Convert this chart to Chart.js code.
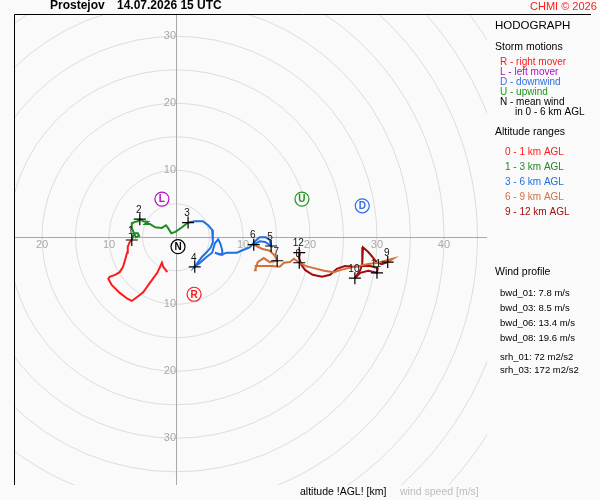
<!DOCTYPE html>
<html>
<head>
<meta charset="utf-8">
<script src="https://cdn.jsdelivr.net/npm/chart.js@4.4.1/dist/chart.umd.min.js"></script>
<style>
  body { margin: 0; background: #fafafa; }
  #wrap { width: 600px; height: 500px; }
</style>
</head>
<body>
<div id="wrap"><canvas id="hodo" width="600" height="500"></canvas></div>
<script>
// hodograph traces, [u, v] in m/s, by altitude layer
const layer0to1 = [[-1.3,-5.2],[-1.9,-4.4],[-2.1,-3.8],[-2.8,-5.3],[-3.9,-6.8],[-4.9,-8.2],[-5.8,-8.9],[-6.6,-9.5],
  [-7.2,-9.2],[-8.4,-8.3],[-9.6,-7.1],[-10.1,-6.2],[-9.9,-5.9],[-9.1,-5.6],[-8.4,-5.2],[-7.9,-4.4],[-7.6,-3.4],
  [-7.3,-2.3],[-7.2,-1.4],[-6.9,-0.7],[-6.6,-0.4]];
const layer1to3 = [[-6.6,-0.4],[-6.4,0.2],[-6.1,0.6],[-5.7,0.6],[-5.5,0.2],[-6.0,0.0],[-6.6,1.4],[-6.6,2.1],[-6.1,2.3],
  [-5.7,2.4],[-5.4,2.7],[-4.9,2.4],[-4.2,2.3],[-4.6,2.0],[-3.9,2.0],[-3.1,1.5],[-2.1,1.4],[-1.5,1.8],[-1.2,1.4],
  [-0.7,0.6],[-0.1,0.8],[0.9,1.5],[1.8,2.2]];
const layer3to6 = [[1.8,2.2],[2.8,2.4],[4.0,2.4],[4.8,1.8],[5.4,1.1],[5.5,0.3],[5.5,-0.7],[5.2,-1.5],[4.6,-2.2],
  [3.9,-2.9],[3.3,-3.7],[2.8,-4.4],[3.6,-3.8],[4.6,-2.9],[5.4,-2.3],[5.8,-0.9],[6.3,-0.3],[6.6,-0.9],[6.9,-1.9],
  [6.9,-2.6],[5.8,-2.3],[6.6,-2.6],[7.6,-2.3],[9.1,-2.3],[10.0,-1.9],[11.0,-1.5],[11.8,-0.6],[12.5,0.0],[13.4,0.0],
  [14.0,-0.4],[14.2,-1.3],[13.3,-0.7],[12.5,-0.6],[11.6,-1.1]];
const layer6to9 = [[11.6,-1.1],[12.8,-1.7],[14.0,-2.0],[14.8,-2.8],[15.1,-3.5],[14.0,-3.7],[13.1,-3.1],[12.2,-3.7],
  [11.8,-4.9],[11.9,-4.3],[13.0,-4.3],[14.3,-4.3],[15.5,-4.4],[16.1,-3.8],[17.0,-3.7],[17.6,-3.2],[18.4,-3.8],
  [19.4,-4.3],[20.6,-4.6],[22.1,-5.0],[23.6,-5.2],[24.5,-4.9],[25.7,-4.6],[27.2,-4.3],[28.7,-4.0],[30.1,-3.8],
  [32.4,-3.2],[31.6,-3.7]];
const layer9to12 = [[31.6,-3.7],[30.7,-4.0],[29.9,-3.7],[29.3,-2.9],[28.7,-2.2],[27.9,-1.5],[27.8,-2.6],[27.8,-4.1],
  [27.5,-4.9],[26.7,-6.1],[27.5,-5.3],[28.7,-5.0],[30.0,-5.3],[30.1,-4.6],[29.0,-4.3],[27.8,-4.3],[26.4,-4.4],
  [25.2,-4.3],[24.0,-4.7],[23.0,-5.6],[21.8,-5.9],[20.4,-5.6],[19.3,-4.9],[18.7,-4.1],[18.4,-3.1],[18.4,-2.3]];

// altitude markers (km)
const kmLabels = ['1','2','3','4','5','6','7','8','9','10','11','12'];
const kmU = [-6.6,-5.4,1.8,2.8,14.2,11.6,15.1,18.4,31.6,26.7,30.0,18.4];
const kmV = [-0.4,2.7,2.2,-4.4,-1.3,-1.1,-3.5,-3.8,-3.7,-6.1,-5.3,-2.3];

// storm motions
const stormLabels = ['R','L','D','U','N'];
const stormU = [2.7,-2.1,27.8,18.8,0.3];
const stormV = [-8.5,5.7,4.7,5.7,-1.4];
const stormColors = ['#ff1a1a','#b010c0','#2f6fe0','#1f961f','#000000'];

// rings and axis ticks
const rings = [5,10,15,20,25,30,35,40,45,50,55,60];
const ticksU = [-20,-10,10,20,30,40];
const ticksV = [30,20,10,-10,-20,-30];

const layerColors = ['#ff1a1a','#1f8a1f','#1f6fe6','#d2703c','#a30c0c'];
const layerNames = ['0 - 1 km AGL','1 - 3 km AGL','3 - 6 km AGL','6 - 9 km AGL','9 - 12 km AGL'];
const windProfile = ['bwd_01: 7.8 m/s','bwd_03: 8.5 m/s','bwd_06: 13.4 m/s','bwd_08: 19.6 m/s'];
const helicity = ['srh_01: 72 m2/s2','srh_03: 172 m2/s2'];

const FONT = '"Liberation Sans", Arial, sans-serif';

function toPoints(arr) {
    return arr.map(p => ({ x: p[0], y: p[1] }));
}

const layers = [layer0to1, layer1to3, layer3to6, layer6to9, layer9to12];
const traceSets = layers.map((l, i) => ({
    data: toPoints(l),
    showLine: true,
    borderColor: layerColors[i],
    borderWidth: 2,
    pointRadius: 0,
    tension: 0,
    order: 3
}));

const hodoPlugin = {
    id: 'hodo',
    beforeDatasetsDraw(chart) {
        const { ctx, chartArea: a, scales: { x, y } } = chart;
        const x0 = x.getPixelForValue(0), y0 = y.getPixelForValue(0);
        ctx.save();
        ctx.beginPath();
        ctx.rect(a.left, a.top, a.right - a.left, a.bottom - a.top);
        ctx.clip();
        ctx.strokeStyle = '#dcdcdc';
        ctx.lineWidth = 1;
        rings.forEach(r => {
            ctx.beginPath();
            ctx.ellipse(x0, y0, x.getPixelForValue(r) - x0, y0 - y.getPixelForValue(r), 0, 0, Math.PI * 2);
            ctx.stroke();
        });
        ctx.strokeStyle = '#a8a8a8';
        ctx.beginPath();
        ctx.moveTo(Math.round(x0) + 0.5, a.top);
        ctx.lineTo(Math.round(x0) + 0.5, a.bottom);
        ctx.moveTo(a.left, Math.round(y0) + 0.5);
        ctx.lineTo(a.right, Math.round(y0) + 0.5);
        ctx.stroke();
        ctx.restore();

        ctx.save();
        ctx.fillStyle = '#a8a8a8';
        ctx.font = '11px ' + FONT;
        ctx.textAlign = 'center';
        ctx.textBaseline = 'middle';
        ticksU.forEach(t => ctx.fillText(String(Math.abs(t)), x.getPixelForValue(t), y0 + 8));
        ctx.textAlign = 'right';
        ticksV.forEach(t => ctx.fillText(String(Math.abs(t)), x0, y.getPixelForValue(t)));
        ctx.restore();

        // frame
        ctx.save();
        ctx.strokeStyle = '#000';
        ctx.lineWidth = 1;
        ctx.beginPath();
        ctx.moveTo(a.left - 0.5, a.bottom);
        ctx.lineTo(a.left - 0.5, a.top - 0.5);
        ctx.lineTo(591, a.top - 0.5);
        ctx.stroke();
        ctx.restore();
    },
    afterDatasetsDraw(chart) {
        const { ctx } = chart;
        ctx.save();
        // altitude labels
        const km = chart.getDatasetMeta(1).data;
        ctx.fillStyle = '#111';
        ctx.font = '10px ' + FONT;
        ctx.textAlign = 'center';
        ctx.textBaseline = 'middle';
        km.forEach((pt, i) => ctx.fillText(kmLabels[i], pt.x - 1, pt.y - 9));

        // storm motion letters
        const st = chart.getDatasetMeta(0).data;
        ctx.font = 'bold 10px ' + FONT;
        st.forEach((pt, i) => {
            ctx.fillStyle = stormColors[i];
            ctx.fillText(stormLabels[i], pt.x, pt.y + 0.5);
        });

        // header
        ctx.textAlign = 'left';
        ctx.fillStyle = '#000';
        ctx.font = 'bold 12px ' + FONT;
        ctx.fillText('Prostejov', 50, 6);
        ctx.fillText('14.07.2026 15 UTC', 117, 6);
        ctx.fillStyle = '#ff1a1a';
        ctx.font = '11px ' + FONT;
        ctx.fillText('CHMI \u00a9 2026', 530, 7);

        // side legend
        ctx.fillStyle = '#000';
        ctx.font = '11.5px ' + FONT;
        ctx.fillText('HODOGRAPH', 495, 26);
        ctx.font = '10.5px ' + FONT;
        ctx.fillText('Storm motions', 495, 47);
        ctx.fillText('Altitude ranges', 495, 132);
        ctx.fillText('Wind profile', 495, 272);

        const stormText = ['R - right mover','L - left mover','D - downwind','U - upwind','N - mean wind'];
        ctx.font = '10px ' + FONT;
        stormText.forEach((t, i) => {
            ctx.fillStyle = stormColors[i];
            ctx.fillText(t, 500, 62 + i * 10);
        });
        ctx.fillStyle = '#000';
        ctx.fillText('in 0 - 6 km AGL', 515, 112);

        layerNames.forEach((t, i) => {
            ctx.fillStyle = layerColors[i];
            ctx.fillText(t, 505, 152 + i * 15);
        });

        ctx.fillStyle = '#000';
        ctx.font = '9.5px ' + FONT;
        windProfile.forEach((t, i) => ctx.fillText(t, 500, 293 + i * 15));
        helicity.forEach((t, i) => ctx.fillText(t, 500, 357 + i * 13));

        // bottom captions
        ctx.font = '10.5px ' + FONT;
        ctx.fillStyle = '#000';
        ctx.fillText('altitude !AGL! [km]', 300, 492);
        ctx.fillStyle = '#bdbdbd';
        ctx.fillText('wind speed [m/s]', 400, 492);
        ctx.restore();
    }
};

new Chart(document.getElementById('hodo'), {
    type: 'scatter',
    data: {
        datasets: [
            {
                data: stormU.map((u, i) => ({ x: u, y: stormV[i] })),
                pointStyle: 'circle',
                pointRadius: 7,
                pointBorderWidth: 1.2,
                pointBorderColor: stormColors,
                pointBackgroundColor: '#fafafa',
                showLine: false,
                order: 0
            },
            {
                data: kmU.map((u, i) => ({ x: u, y: kmV[i] })),
                pointStyle: 'cross',
                pointRadius: 6,
                pointBorderWidth: 1.2,
                pointBorderColor: '#000',
                showLine: false,
                order: 1
            },
            ...traceSets
        ]
    },
    options: {
        responsive: false,
        animation: false,
        events: [],
        layout: { padding: { left: 15, top: 15, right: 113, bottom: 15 } },
        plugins: { legend: { display: false }, tooltip: { enabled: false } },
        scales: {
            x: { type: 'linear', min: -24.03, max: 46.42, display: false },
            y: { type: 'linear', min: -36.97, max: 33.18, display: false }
        }
    },
    plugins: [hodoPlugin]
});
</script>
</body>
</html>
